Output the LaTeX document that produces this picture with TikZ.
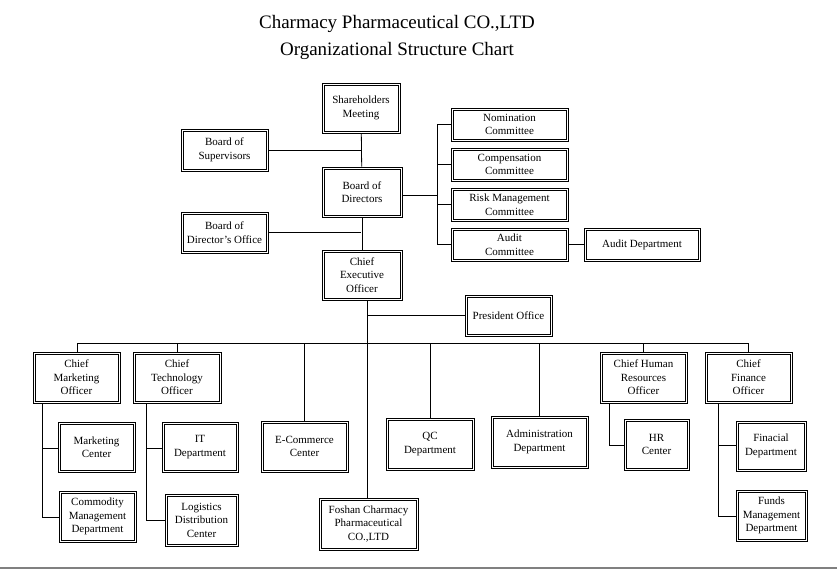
\documentclass[tikz,border=0pt]{standalone}
\usepackage{fontspec}
\setmainfont{Liberation Serif}
\begin{document}
\begin{tikzpicture}[x=1pt,y=-1pt,
  bx/.style={draw,line width=0.8pt,align=center,inner sep=0pt,font=\fontsize{11}{13.5}\selectfont},
  inr/.style={line width=0.8pt},
  ln/.style={line width=0.8pt}]
\useasboundingbox (0,0) rectangle (837,574);
\newcommand{\bxx}[6]{\node[bx,minimum width=#4-#2,minimum height=#5-#3] (#1) at ({(#2+#4)/2},{(#3+#5)/2}) {#6};
  \draw[inr] ([xshift=2.5pt,yshift=-2.5pt]#1.north west) rectangle ([xshift=-2.5pt,yshift=2.5pt]#1.south east);}
\node[font=\fontsize{19}{27}\selectfont,align=center] (title) at (397,37) {Charmacy Pharmaceutical CO.,LTD\\Organizational Structure Chart};
\bxx{sh}{322}{83}{400}{133}{Shareholders\\Meeting}
\bxx{sup}{181}{129}{268}{171}{Board of\\Supervisors}
\bxx{bod}{322}{167}{402}{217}{Board of\\Directors}
\bxx{bdo}{181}{212}{268}{253}{Board of\\Director's Office}
\bxx{ceo}{322}{250}{402}{300}{Chief\\Executive\\Officer}
\bxx{nom}{451}{108}{568}{141}{Nomination\\Committee}
\bxx{com}{451}{148}{568}{181}{Compensation\\Committee}
\bxx{risk}{451}{188}{568}{221}{Risk Management\\Committee}
\bxx{aud}{451}{228}{568}{261}{Audit\\Committee}
\bxx{audd}{584}{228}{700}{261}{Audit Department}
\bxx{pres}{465}{295}{552}{336}{President Office}
\bxx{cmo}{33}{352}{120}{403}{Chief\\Marketing\\Officer}
\bxx{cto}{133}{352}{221}{403}{Chief\\Technology\\Officer}
\bxx{ec}{261}{421}{348}{472}{E-Commerce\\Center}
\bxx{fos}{319}{498}{418}{550}{Foshan Charmacy\\Pharmaceutical\\CO.,LTD}
\bxx{qc}{386}{418}{474}{470}{QC\\Department}
\bxx{adm}{491}{416}{588}{468}{Administration\\Department}
\bxx{chro}{600}{352}{687}{403}{Chief Human\\Resources\\Officer}
\bxx{cfo}{705}{352}{792}{403}{Chief\\Finance\\Officer}
\bxx{mc}{58}{422}{135}{472}{Marketing\\Center}
\bxx{cmd}{59}{491}{136}{542}{Commodity\\Management\\Department}
\bxx{it}{162}{422}{238}{472}{IT\\Department}
\bxx{log}{165}{494}{238}{546}{Logistics\\Distribution\\Center}
\bxx{hr}{624}{419}{689}{470}{HR\\Center}
\bxx{fin}{736}{421}{806}{471}{Finacial\\Department}
\bxx{fund}{736}{490}{807}{541}{Funds\\Management\\Department}
% top chain
\draw[ln] (sh) -- (bod); \draw[ln] (bod) -- (ceo);
\draw[ln] (sup.east) -- (sup.east -| sh.south);
\draw[ln] (bdo.east) -- (bdo.east -| sh.south);
\coordinate (br) at (437,195);
\draw[ln] (bod.east |- br) -- (br);
\draw[ln] (437,124) -- (437,245);
\foreach \n in {nom,com,risk,aud} \draw[ln] (437,0 |- \n.west) -- (\n.west);
\draw[ln] (aud) -- (audd);
% trunk
\draw[ln] (367,300) -- (fos.north -| 367,0);
\draw[ln] (367,315) -- (pres.west |- 367,315);
\draw[ln] (77,343) -- (748,343);
\foreach \n/\x in {cmo/77,cto/177,ec/304,qc/430,adm/539,chro/643,cfo/748} \draw[ln] (\x,343) -- (\n.north -| \x,0);
% sub brackets
\draw[ln] (42,403) -- (42,517) -- (cmd.west |- 42,517);
\draw[ln] (42,448) -- (mc.west |- 42,448);
\draw[ln] (146,403) -- (146,520) -- (log.west |- 146,520);
\draw[ln] (146,448) -- (it.west |- 146,448);
\draw[ln] (609,403) -- (609,445) -- (hr.west |- 609,445);
\draw[ln] (718,403) -- (718,516) -- (fund.west |- 718,516);
\draw[ln] (718,445) -- (fin.west |- 718,445);
\draw[gray,line width=1.2pt] (0,568) -- (837,568);
\end{tikzpicture}
\end{document}
